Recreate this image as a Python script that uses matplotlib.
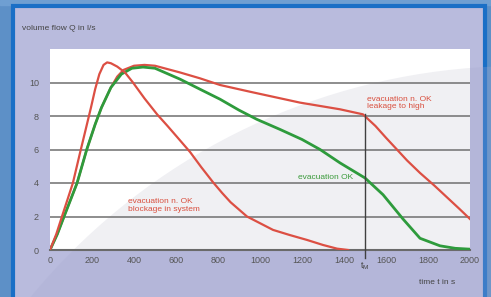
import numpy as np
import matplotlib
matplotlib.use("Agg")
from matplotlib import pyplot as plt
from matplotlib.patches import Rectangle, Circle

plt.rcParams['font.family'] = ['Liberation Sans', 'DejaVu Sans']

# evacuation n. OK - blockage in system
block_t = [0, 30, 57, 109, 143, 170, 195, 215, 235, 255, 272, 290, 320, 357, 395, 450, 510, 560, 605, 667, 720, 776, 820, 860, 938, 1000, 1062, 1140, 1224, 1300, 1367, 1420]
block_q = [0, 0.95, 2, 4, 5.8, 7.2, 8.5, 9.6, 10.5, 11.05, 11.2, 11.15, 10.95, 10.6, 10.0, 9.05, 8.1, 7.4, 6.75, 5.85, 4.95, 4.05, 3.4, 2.85, 2.0, 1.6, 1.2, 0.9, 0.6, 0.3, 0.08, 0]

# evacuation OK
ok_t = [0, 35, 67, 129, 175, 215, 245, 290, 340, 390, 443, 500, 619, 714, 810, 900, 985, 1095, 1200, 1286, 1381, 1500, 1586, 1681, 1762, 1857, 1930, 2000]
ok_q = [0, 0.95, 2, 4, 6, 7.5, 8.5, 9.7, 10.5, 10.85, 10.92, 10.85, 10.2, 9.6, 9.0, 8.35, 7.8, 7.2, 6.6, 6.0, 5.2, 4.3, 3.3, 1.85, 0.7, 0.25, 0.1, 0.05]

# evacuation n. OK - leakage to high
leak_t = [0, 35, 67, 129, 175, 215, 245, 290, 320, 350, 400, 450, 500, 619, 714, 810, 952, 1190, 1381, 1490, 1550, 1600, 1652, 1700, 1762, 1830, 1890, 1950, 2000]
leak_q = [0, 0.95, 2, 4, 6, 7.5, 8.5, 9.7, 10.35, 10.75, 11.0, 11.05, 11.0, 10.6, 10.25, 9.85, 9.45, 8.8, 8.4, 8.1, 7.4, 6.7, 6.0, 5.35, 4.6, 3.85, 3.15, 2.45, 1.85]

x_ticks = [0, 200, 400, 600, 800, 1000, 1200, 1400, 1600, 1800, 2000]
y_ticks = [0, 2, 4, 6, 8, 10]
t_m = 1500

W, H = 491, 297
fig = plt.figure(figsize=(W / 100, H / 100), dpi=100)

# background (pixel coords)
bg = fig.add_axes([0, 0, 1, 1])
bg.set_xlim(0, W)
bg.set_ylim(H, 0)
bg.axis('off')
bg.add_patch(Rectangle((0, 0), W, H, color='#5d90c7', zorder=0))
bg.add_patch(Rectangle((0, 0), W, 5, color='#6f9fd2', zorder=0))
bg.add_patch(Rectangle((13, 6), 472, 300, facecolor='#b9bbdd', edgecolor='#1a6fc6', lw=3, zorder=1))
bg.add_patch(Circle((520, 700), 634, facecolor='#a8aad0', alpha=0.25, lw=0, zorder=2))

ax = fig.add_axes([50 / W, 47 / H, 420 / W, 201 / H])
ax.set_facecolor('white')
ax.add_patch(Circle((520, 700), 634, transform=bg.transData, facecolor='#e6e6ec', alpha=0.6, lw=0, zorder=0))

for y in y_ticks[1:]:
    ax.axhline(y, color='#7a7a7a', lw=1.2, zorder=1)

ax.plot(leak_t, leak_q, color='#dc4f43', lw=1.6, zorder=3)
ax.plot(ok_t, ok_q, color='#2e9b3c', lw=2.0, zorder=4)
ax.plot(block_t, block_q, color='#dc4f43', lw=1.6, zorder=5)

ax.plot([t_m, t_m], [8.1, -0.5], color='#404040', lw=1.0, clip_on=False, zorder=6)

ax.set_xlim(0, 2000)
ax.set_ylim(0, 12)
ax.set_xticks(x_ticks)
ax.set_yticks(y_ticks)
ax.tick_params(length=0, labelsize=6.5, labelcolor='#555555')
ax.tick_params(axis='y', pad=8)
ax.tick_params(axis='x', pad=4)
for s in ['top', 'right', 'left']:
    ax.spines[s].set_visible(False)
ax.spines['bottom'].set_color('#6a6a6a')
ax.spines['bottom'].set_linewidth(1.5)

ax.text(371, 2.65, 'evacuation n. OK\nblockage in system', color='#d9503f', fontsize=6,
        va='center', ha='left', linespacing=1.1, zorder=7)
ax.text(1510, 8.78, 'evacuation n. OK\nleakage to high', color='#d9503f', fontsize=6,
        va='center', ha='left', linespacing=1.1, zorder=7)
ax.text(1445, 4.3, 'evacuation OK', color='#3a9a3a', fontsize=6,
        va='center', ha='right', zorder=7)
ax.text(t_m, -0.95, r'$\mathregular{t_M}$', color='#444444', fontsize=6.5,
        va='center', ha='center', clip_on=False)

fig.text(22 / W, 1 - 28 / H, 'volume flow Q in l/s', color='#444444', fontsize=6, va='center', ha='left')
fig.text(419 / W, 1 - 283 / H, 'time t in s', color='#444444', fontsize=6, va='center', ha='left')

fig.savefig('out.png', dpi=100)
